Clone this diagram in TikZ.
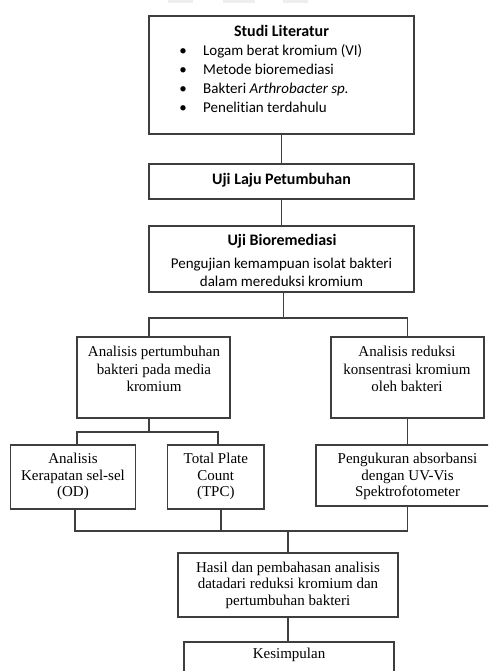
\documentclass[tikz,border=0pt]{standalone}
\usepackage{fontspec}
\setmainfont{Liberation Serif}
\newfontfamily\carl[Ligatures=NoCommon]{Carlito}
\usetikzlibrary{calc}
\definecolor{lc}{RGB}{62,62,62}
\definecolor{wm}{RGB}{238,238,238}
\newcommand\bul{\makebox[0pt]{\textbullet}\hspace{20pt}}
\tikzset{
  box/.style={draw=lc, line width=1.1pt, rectangle, inner sep=0pt},
  conn/.style={draw=lc, line width=1.1pt},
  tl/.style={anchor=base, inner sep=0pt, text=black},
  sansreg/.style={font=\carl\fontsize{15}{17}\selectfont},
  sansbold/.style={font=\carl\bfseries\fontsize{16}{19}\selectfont},
  serif/.style={font=\fontsize{15}{17.5}\selectfont},
}
\begin{document}
\begin{tikzpicture}[x=1pt,y=-1pt]
\useasboundingbox (0,0) rectangle (488,671);
\clip (0,0) rectangle (488,671);
% faint watermark fragments at top
\fill[wm] (168,0) rectangle (193,3.5);
\fill[wm] (223,0) rectangle (255,3.5);
\fill[wm] (283,0) rectangle (308,3.5);

% boxes
\node[box, minimum width=265pt, minimum height=118pt] (b1) at (281.5,75) {};
\node[box, minimum width=265pt, minimum height=35pt] (b2) at (281.5,181.5) {};
\node[box, minimum width=265pt, minimum height=66pt] (b3) at (281.5,259) {};
\node[box, minimum width=153pt, minimum height=81pt] (b4) at (153.5,377.5) {};
\node[box, minimum width=153pt, minimum height=81pt] (b5) at (407.5,377.5) {};
\node[box, minimum width=125pt, minimum height=64pt] (b6) at (73.2,477) {};
\node[box, minimum width=96.3pt, minimum height=64pt] (b7) at (215.8,477) {};
\node[box, minimum width=183pt, minimum height=61pt] (b8) at (407.5,475.5) {};
\node[box, minimum width=220pt, minimum height=64pt] (b9) at (288,585) {};
\node[box, minimum width=210pt, minimum height=60pt] (b10) at (289,672) {};

% texts
\node[tl, sansbold] (t1) at (281.5,36.5) {Studi Literatur};
\node[tl, sansreg, anchor=base west] (t1a) at (183,56) {\bul Logam berat kromium (VI)};
\node[tl, sansreg, anchor=base west] (t1b) at (183,75) {\bul Metode bioremediasi};
\node[tl, sansreg, anchor=base west] (t1c) at (183,94) {\bul Bakteri \textit{Arthrobacter sp.}};
\node[tl, sansreg, anchor=base west] (t1d) at (183,113) {\bul Penelitian terdahulu};

\node[tl, sansbold] (t2) at (281.5,184.3) {Uji Laju Petumbuhan};

\node[tl, sansbold] (t3) at (282,245.7) {Uji Bioremediasi};
\node[tl, sansreg] (t3a) at (281.5,268.5) {Pengujian kemampuan isolat bakteri};
\node[tl, sansreg] (t3b) at (281.5,286) {dalam mereduksi kromium};

\node[tl, serif] (t4a) at (154,356) {Analisis pertumbuhan};
\node[tl, serif] (t4b) at (154,374) {bakteri pada media};
\node[tl, serif] (t4c) at (154,391) {kromium};

\node[tl, serif] (t5a) at (407,356) {Analisis reduksi};
\node[tl, serif] (t5b) at (407,374) {konsentrasi kromium};
\node[tl, serif] (t5c) at (407,391) {oleh bakteri};

\node[tl, serif] (t6a) at (73,463.3) {Analisis};
\node[tl, serif] (t6b) at (73,480) {Kerapatan sel-sel};
\node[tl, serif] (t6c) at (73,496.7) {(OD)};

\node[tl, serif] (t7a) at (215.8,463.3) {Total Plate};
\node[tl, serif] (t7b) at (215.8,480) {Count};
\node[tl, serif] (t7c) at (215.8,496.7) {(TPC)};

\node[tl, serif] (t8a) at (407.5,463.3) {Pengukuran absorbansi};
\node[tl, serif] (t8b) at (407.5,480) {dengan UV-Vis};
\node[tl, serif] (t8c) at (407.5,496.7) {Spektrofotometer};

\node[tl, serif] (t9a) at (288,572.7) {Hasil dan pembahasan analisis};
\node[tl, serif] (t9b) at (288,588.7) {datadari reduksi kromium dan};
\node[tl, serif] (t9c) at (288,605) {pertumbuhan bakteri};

\node[tl, serif] (t10) at (289,658.3) {Kesimpulan};

% connectors
\draw[conn] (b1.south) -- (b2.north);
\draw[conn] (b2.north |- b2.south) -- (b3.north);
\coordinate (j1) at (283.3,318);
\coordinate (j2) at (149,432);
\coordinate (j3) at (288,531);
\draw[conn] (b3.south -| j1) -- (j1);
\draw[conn] ([xshift=-4.5pt]b4.north) |- (j1) -| (b5.north);
\draw[conn] ([xshift=-4.5pt]b4.south) -- (j2);
\draw[conn] ([xshift=3.8pt]b6.north) |- (j2) -| ([xshift=2.2pt]b7.north);
\draw[conn] (b5.south) -- (b8.north);
\draw[conn] ([xshift=1.8pt]b6.south) |- (j3) -| (b8.south);
\draw[conn] ([xshift=5.2pt]b7.south) |- (j3);
\draw[conn] (j3) -- (b9.north);
\draw[conn] (b9.south) -- (b9.south |- b10.north);
\end{tikzpicture}
\end{document}
